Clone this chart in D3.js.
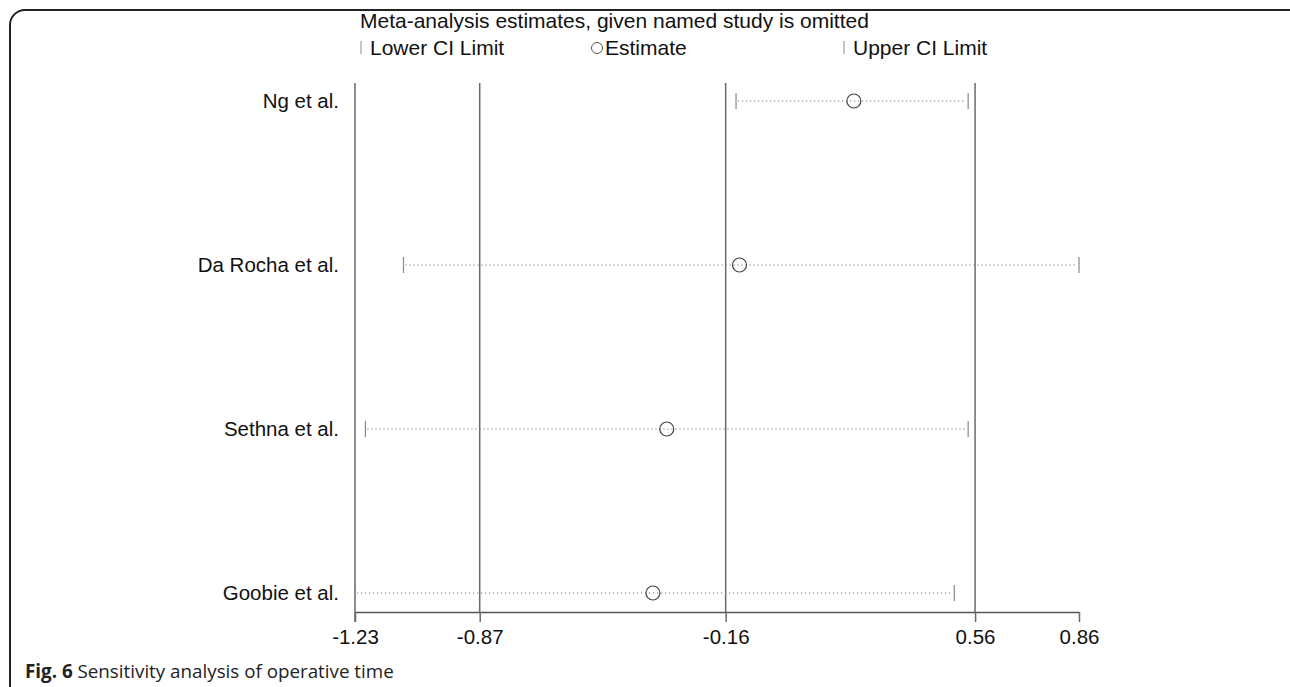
<!DOCTYPE html>
<html>
<head>
<meta charset="utf-8">
<script src="https://cdn.jsdelivr.net/npm/d3@7"></script>
<style>
  html, body { margin: 0; padding: 0; background: #fff; }
  svg { display: block; }
  .lbl { font-family: "Liberation Sans", Arial, sans-serif; fill: #111; }
  .cap { font-family: "Open Sans", sans-serif; fill: #222; }
</style>
</head>
<body>
<svg id="chart" width="1290" height="687"></svg>
<script>
'use strict';
// study omitted -> pooled estimate with CI
const studies = ['Ng et al.', 'Da Rocha et al.', 'Sethna et al.', 'Goobie et al.'];
const estimates = [0.21, -0.12, -0.33, -0.37];
const lowerCI = [-0.13, -1.09, -1.20, -1.23];
const upperCI = [0.54, 0.86, 0.54, 0.50];
const tickVals = [-1.23, -0.87, -0.16, 0.56, 0.86];
const refLines = [-0.87, -0.16, 0.56];   // overall lower, estimate, upper

const svg = d3.select('#chart');
const W = 1290, H = 687;
const plotL = 355, plotR = 1079, plotT = 83, axisY = 612;

const x = d3.scaleLinear().domain([-1.23, 0.86]).range([plotL, plotR]);
const y = d3.scalePoint().domain(studies).range([101, 593]);

// panel frame
svg.append('rect')
  .attr('x', 10).attr('y', 10).attr('width', W + 20).attr('height', H + 4)
  .attr('rx', 15).attr('fill', 'none')
  .attr('stroke', '#222').attr('stroke-width', 2);

// title + legend
svg.append('text').attr('class', 'lbl')
  .attr('x', 360).attr('y', 28).attr('font-size', 21)
  .text('Meta-analysis estimates, given named study is omitted');

const legY = 47;
const leg = svg.append('g').attr('class', 'lbl').attr('font-size', 21);
[[361, 'Lower CI Limit'], [844, 'Upper CI Limit']].forEach(([lx, t]) => {
  leg.append('line').attr('x1', lx).attr('x2', lx).attr('y1', legY - 6).attr('y2', legY + 7)
    .attr('stroke', '#888').attr('stroke-width', 1);
  leg.append('text').attr('x', lx + 9).attr('y', legY + 7.5).text(t);
});
leg.append('circle').attr('cx', 597).attr('cy', legY + 1).attr('r', 5.5)
  .attr('fill', 'none').attr('stroke', '#555').attr('stroke-width', 1);
leg.append('text').attr('x', 605).attr('y', legY + 7.5).text('Estimate');

// left edge + reference lines
svg.append('line')
  .attr('x1', plotL).attr('x2', plotL).attr('y1', plotT).attr('y2', axisY + 10)
  .attr('stroke', '#6a6a6a').attr('stroke-width', 1.5);
svg.selectAll('.ref').data(refLines).join('line')
  .attr('class', 'ref')
  .attr('x1', d => x(d)).attr('x2', d => x(d))
  .attr('y1', plotT).attr('y2', axisY)
  .attr('stroke', '#6a6a6a').attr('stroke-width', 1.5);

// x axis
const axis = svg.append('g')
  .attr('transform', `translate(0,${axisY})`)
  .call(d3.axisBottom(x).tickValues(tickVals).tickSize(10).tickSizeOuter(0)
    .tickFormat(d => d.toFixed(2)));
axis.select('.domain').attr('stroke', '#555').attr('stroke-width', 1.5);
axis.selectAll('.tick line').attr('stroke', '#6a6a6a').attr('stroke-width', 1.5);
axis.selectAll('.tick text')
  .attr('class', 'lbl').attr('font-size', 20.5).attr('dy', '0.95em').attr('fill', '#111');

// rows
const rows = svg.selectAll('.row').data(studies).join('g').attr('class', 'row');
rows.append('text').attr('class', 'lbl')
  .attr('x', 339).attr('y', d => y(d)).attr('dy', '0.36em')
  .attr('text-anchor', 'end').attr('font-size', 20.5)
  .text(d => d);
rows.append('line')
  .attr('x1', (d, i) => x(lowerCI[i]) + 2).attr('x2', (d, i) => x(upperCI[i]) - 2)
  .attr('y1', d => y(d)).attr('y2', d => y(d))
  .attr('stroke', '#777').attr('stroke-width', 1.2).attr('stroke-dasharray', '1.2,2.8');
rows.selectAll('.cap-l').data((d, i) => [lowerCI[i], upperCI[i]].map(v => [v, y(d)])).join('line')
  .attr('x1', d => x(d[0])).attr('x2', d => x(d[0]))
  .attr('y1', d => d[1] - 8).attr('y2', d => d[1] + 8)
  .attr('stroke', '#888').attr('stroke-width', 1.2);
rows.append('circle')
  .attr('cx', (d, i) => x(estimates[i])).attr('cy', d => y(d)).attr('r', 7)
  .attr('fill', 'none').attr('stroke', '#444').attr('stroke-width', 1.2);

// caption
const cap = svg.append('text').attr('class', 'cap')
  .attr('x', 25).attr('y', 678).attr('font-size', 18.8);
cap.append('tspan').attr('font-weight', 'bold').text('Fig. 6');
cap.append('tspan').text(' Sensitivity analysis of operative time');
</script>
</body>
</html>
